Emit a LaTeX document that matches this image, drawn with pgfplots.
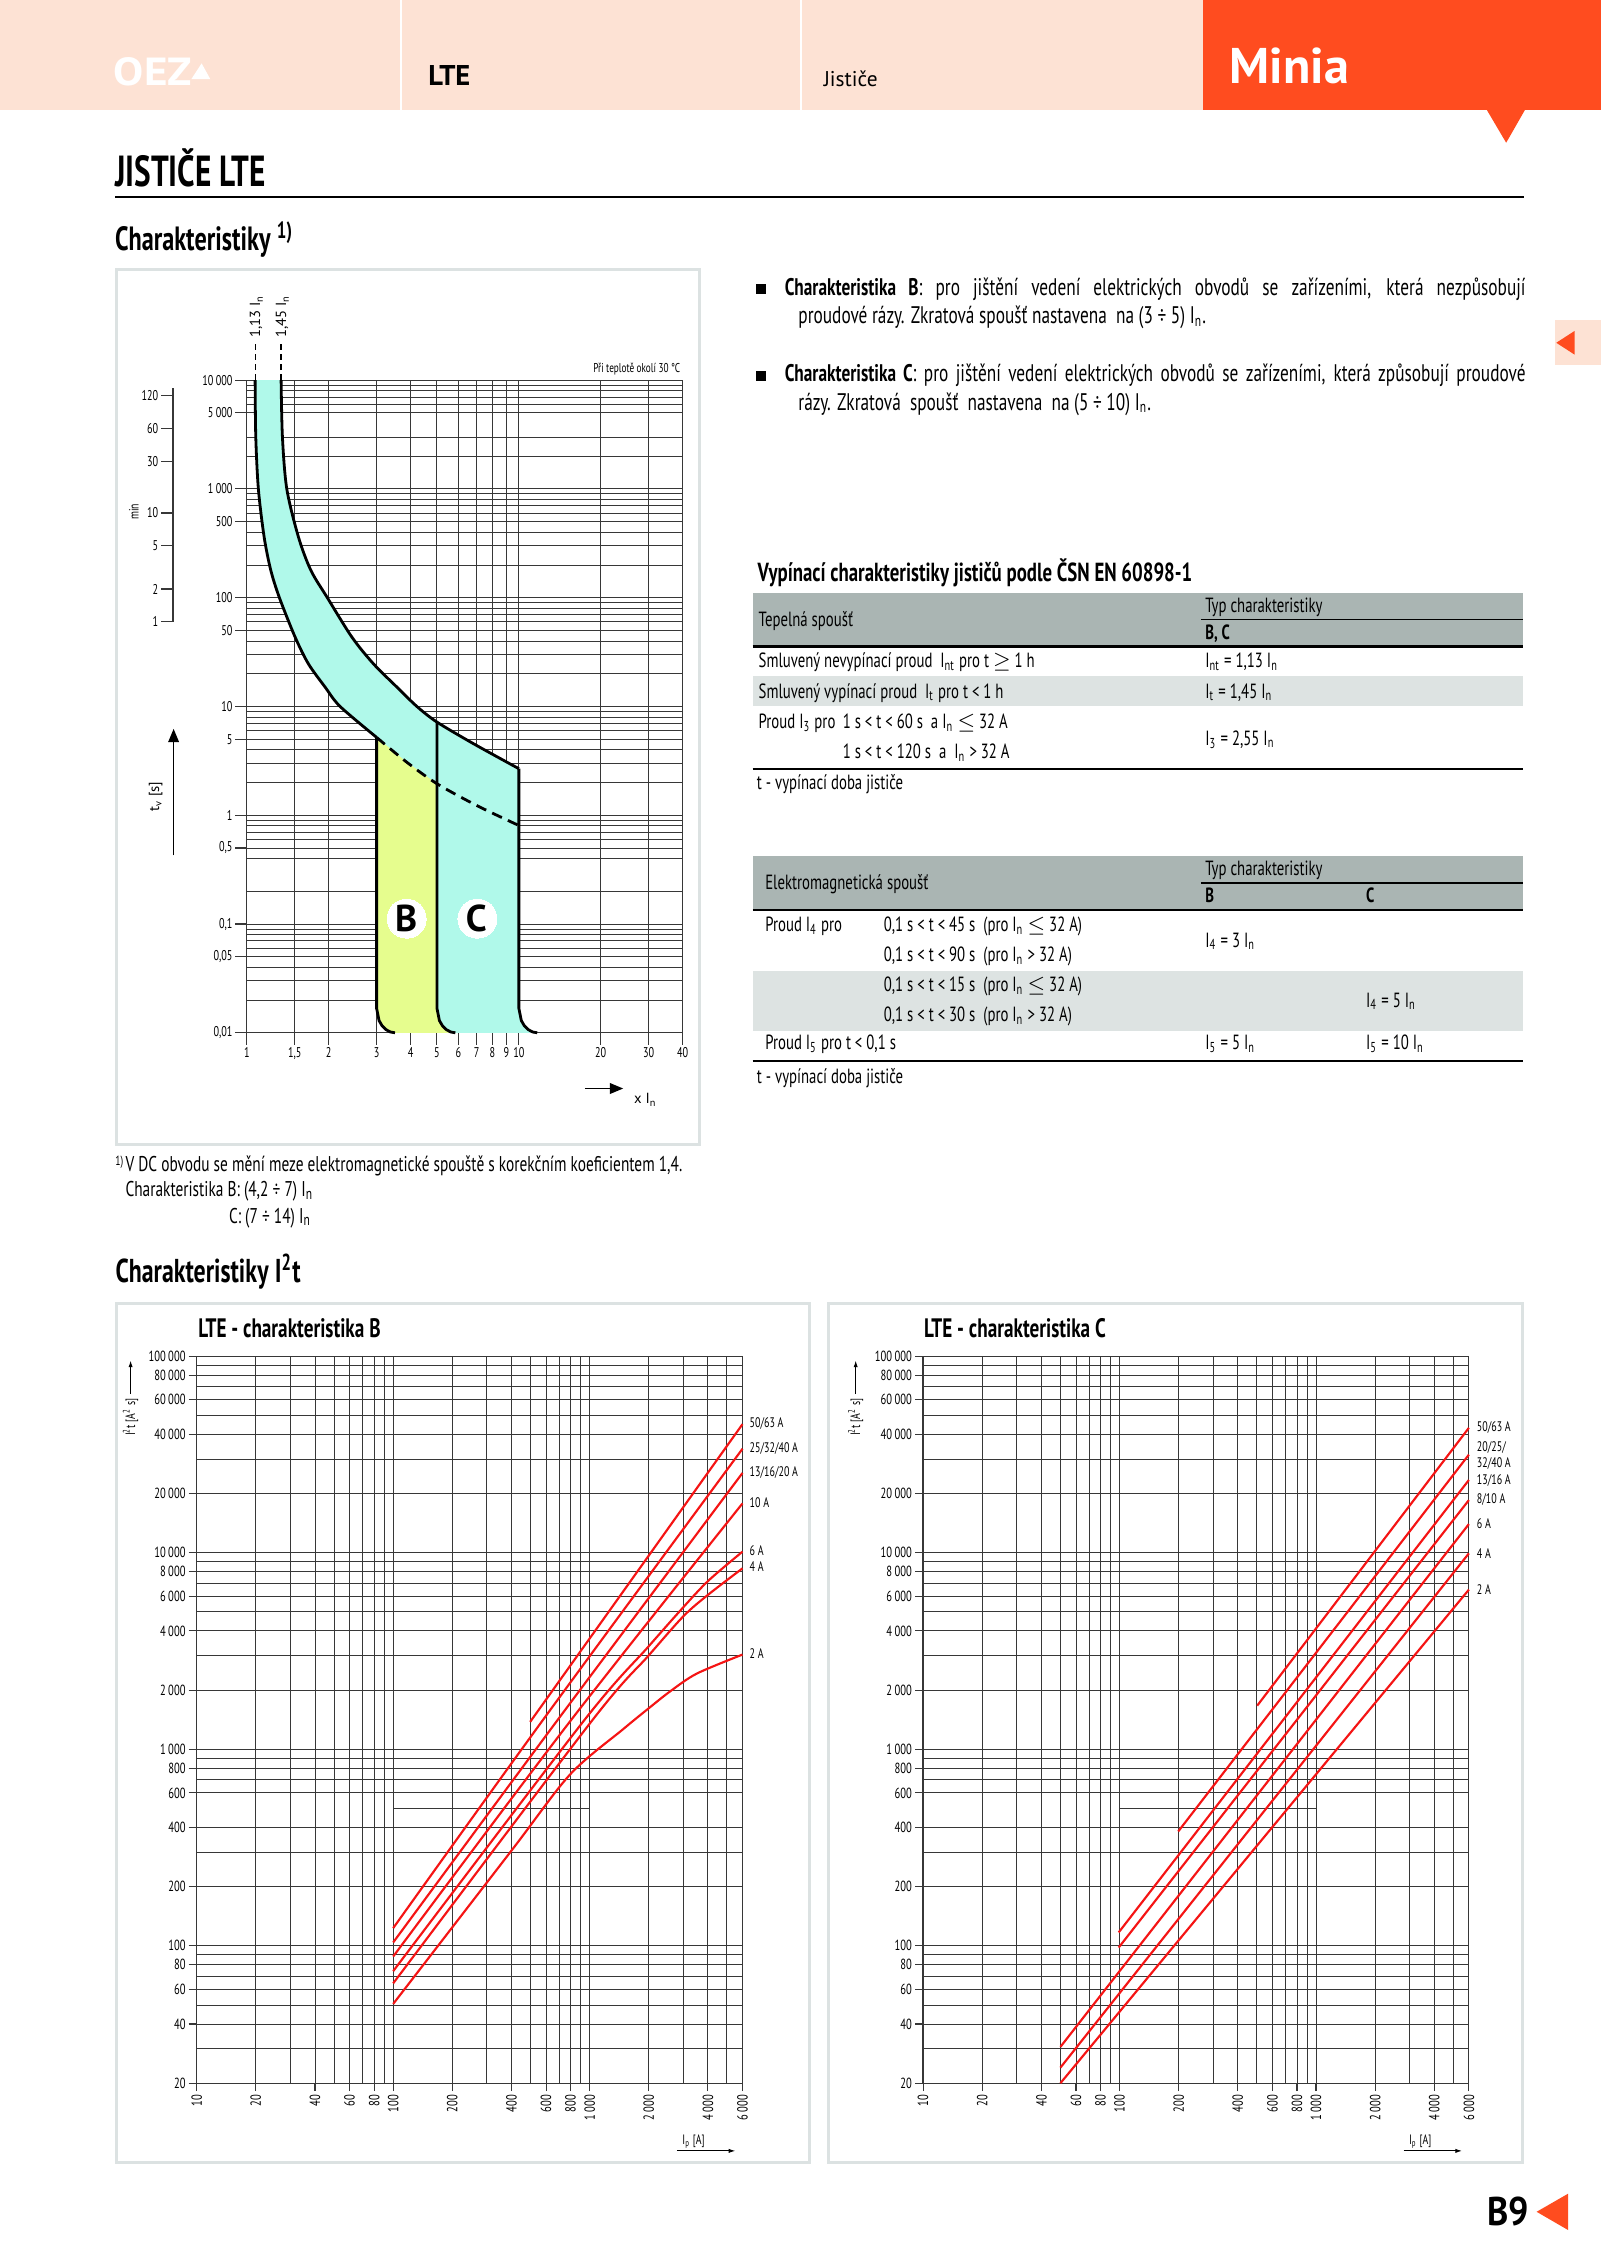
\documentclass[border=0pt]{standalone}
\usepackage{graphicx}
\usepackage{fontspec}
\setmainfont{PT Sans}[FakeStretch=0.72]
\newfontfamily\hfont{PT Sans}
\usepackage{pgfplots}
\pgfplotsset{compat=1.18}
\usetikzlibrary{arrows.meta}
\definecolor{salmon}{RGB}{253,226,212}
\definecolor{oez}{RGB}{255,76,31}
\definecolor{boxgray}{RGB}{220,226,226}
\definecolor{bandc}{RGB}{170,181,179}
\definecolor{lband}{RGB}{221,227,226}
\definecolor{cyanf}{RGB}{176,249,234}
\definecolor{yelf}{RGB}{230,253,142}
\definecolor{gridc}{RGB}{55,55,55}
\definecolor{redc}{RGB}{245,20,20}
\newcommand\fs[1]{\fontsize{#1}{#1}\selectfont}
\newcommand\In{I\textsubscript{n}}
\tikzset{
  myred/.style={draw=redc, line width=0.8pt, smooth},
  myblk/.style={draw=black, line width=1.05pt, line join=round},
}
\begin{document}
\begin{tikzpicture}[x=0.54103pt,y=-0.54103pt]
\useasboundingbox (0,0) rectangle (1109,1568);
\fill[white] (0,0) rectangle (1109,1568);
% ---------------- header
\fill[salmon] (0,0) rectangle (833.5,76.2);
\fill[white] (277,0) rectangle (278.8,76.2);
\fill[white] (554.2,0) rectangle (555.6,76.2);
\fill[oez] (833.5,0) rectangle (1109,76.2);
\fill[oez] (1030.1,76) -- (1056.7,76) -- (1043.6,98.9) -- cycle;
\node[anchor=base west, inner sep=0, white] at (78.5,59.4) {\scalebox{1.15}[1]{\hfont\bfseries\fs{14.7}OEZ}};
\fill[white] (132.6,54.8) -- (145.7,54.8) -- (139.7,43.9) -- cycle;
\node[anchor=base west, inner sep=0] at (296.4,58.9) {\hfont\bfseries\fs{10.7}LTE};
\node[anchor=base west, inner sep=0] at (570.4,59.6) {\hfont\fs{8}Jističe};
\node[anchor=base west, inner sep=0, white] at (851.6,57.8) {\hfont\bfseries\fs{18.8}Minia};
% right tab
\fill[salmon] (1077.6,221.8) rectangle (1109,253);
\fill[oez] (1078.3,237.5) -- (1091,229.3) -- (1091,245.7) -- cycle;
% page number
\node[anchor=base west, inner sep=0] at (1030,1542.2) {\scalebox{0.9}[1]{\hfont\bfseries\fs{15}B9}};
\fill[oez] (1064.7,1532.5) -- (1086.6,1519.9) -- (1086.6,1545.2) -- cycle;
% ---------------- titles
\node[anchor=base west, inner sep=0] at (79.4,129.4) {\bfseries\fs{16.3}JISTIČE LTE};
\draw[line width=0.7pt] (80,136.5) -- (1056,136.5);
\node[anchor=base west, inner sep=0] at (79.4,173.3) {\bfseries\fs{12.6}Charakteristiky \textsuperscript{1)}};
\node[anchor=base west, inner sep=0] at (79.7,888.4) {\bfseries\fs{12.4}Charakteristiky I\textsuperscript{2}t};
% ---------------- bullet paragraphs
\fill (524,196.8) rectangle (531,203.8);
\fill (524,256.9) rectangle (531,263.9);
\node[anchor=base west, inner sep=0] at (543.4,204.5) {\parbox[t]{277.7pt}{\fontsize{9}{10.6}\selectfont\hangindent=5.1pt\hangafter=1
\textbf{Charakteristika B}: pro jištění vedení elektrických obvodů se zařízeními, která nezpůsobují\linebreak proudové rázy. Zkratová spoušť nastavena\ \ na (3 ÷ 5) \In.\par}};
\node[anchor=base west, inner sep=0] at (543.4,264.6) {\parbox[t]{277.7pt}{\fontsize{9}{10.6}\selectfont\hangindent=5.1pt\hangafter=1
\textbf{Charakteristika C}: pro jištění vedení elektrických obvodů se zařízeními, která způsobují proudové\linebreak rázy. Zkratová\ \ spoušť\ \ nastavena\ \ na (5 ÷ 10) \In.\par}};
% ---------------- table 1
\node[anchor=base west, inner sep=0] at (524.5,402.8) {\bfseries\fs{9.8}Vypínací charakteristiky jističů podle ČSN EN 60898-1};
\fill[bandc] (521.5,410.8) rectangle (1055.5,447.8);
\fill[lband] (521.5,468.5) rectangle (1055.5,489.4);
\draw[line width=0.5pt] (832,429.1) -- (1055.5,429.1);
\draw[line width=1.1pt] (521.5,448) -- (1055.5,448);
\draw[line width=0.7pt] (521.5,532.6) -- (1055.5,532.6);
\begin{scope}[every node/.style={anchor=base west, inner sep=0, font=\fs{7.7}}]
\node at (525.3,434) {Tepelná spoušť};
\node at (834.8,424.3) {Typ charakteristiky};
\node at (834.8,442.8) {\bfseries B, C};
\node at (525.3,462.8) {Smluvený nevypínací proud\ \ I\textsubscript{nt} pro t $\ge$ 1 h};
\node at (834.8,462.8) {I\textsubscript{nt} = 1,13 \In};
\node at (525.3,483.8) {Smluvený vypínací proud\ \ I\textsubscript{t} pro t < 1 h};
\node at (834.8,483.8) {I\textsubscript{t} = 1,45 \In};
\node at (525.3,504.8) {Proud I\textsubscript{3} pro};
\node at (583.6,504.8) {1 s < t < 60 s\ \ a\ \In\ $\le$ 32 A};
\node at (583.6,525.6) {1 s < t < 120 s\ \ a\ \ \In\ > 32 A};
\node at (834.8,516.4) {I\textsubscript{3} = 2,55 \In};
\node at (524,547.2) {t - vypínací doba jističe};
\end{scope}
% ---------------- table 2
\fill[bandc] (521.5,593.3) rectangle (1055.5,630.3);
\fill[lband] (521.5,673.1) rectangle (1055.5,714.4);
\draw[line width=0.5pt] (832,611.8) -- (1055.5,611.8);
\draw[line width=1.1pt] (521.5,630.5) -- (1055.5,630.5);
\draw[line width=0.7pt] (521.5,735.4) -- (1055.5,735.4);
\begin{scope}[every node/.style={anchor=base west, inner sep=0, font=\fs{7.7}}]
\node at (529.9,616.5) {Elektromagnetická spoušť};
\node at (834.8,606.5) {Typ charakteristiky};
\node at (834.8,625) {\bfseries B};
\node at (946.2,625) {\bfseries C};
\node at (529.9,645.5) {Proud I\textsubscript{4} pro};
\node at (612,645.5) {0,1 s < t < 45 s\ \ (pro \In\ $\le$ 32 A)};
\node at (612,666.3) {0,1 s < t < 90 s\ \ (pro \In\ > 32 A)};
\node at (834.8,656.2) {I\textsubscript{4} = 3 \In};
\node at (612,687.2) {0,1 s < t < 15 s\ \ (pro \In\ $\le$ 32 A)};
\node at (612,708) {0,1 s < t < 30 s\ \ (pro \In\ > 32 A)};
\node at (946.2,697.8) {I\textsubscript{4} = 5 \In};
\node at (529.9,727.5) {Proud I\textsubscript{5} pro t < 0,1 s};
\node at (834.8,727.5) {I\textsubscript{5} = 5 \In};
\node at (946.2,727.5) {I\textsubscript{5} = 10 \In};
\node at (524,750.9) {t - vypínací doba jističe};
\end{scope}
% ---------------- footnote
\node[anchor=base west, inner sep=0] at (79.6,807.5) {\fs{5}1)};
\begin{scope}[every node/.style={anchor=base west, inner sep=0, font=\fs{8}}]
\node at (86.6,811.7) {V DC obvodu se mění meze elektromagnetické spouště s korekčním koeficientem 1,4.};
\node at (86.6,829.3) {Charakteristika B: (4,2 ÷ 7) \In};
\node at (158.3,847.6) {C: (7 ÷ 14) \In};
\end{scope}
% ---------------- frames
\draw[boxgray, line width=1.1pt] (80.6,186.5) rectangle (484.5,793);
\draw[boxgray, line width=1.1pt] (80.6,903) rectangle (560.9,1498.3);
\draw[boxgray, line width=1.1pt] (574.3,903) rectangle (1055.2,1498.3);
% ---------------- top chart decorations
\node[anchor=base east, inner sep=0] at (471.7,258.3) {\fs{4.8}Při teplotě okolí 30 °C};
\draw[black, line width=0.6pt, dash pattern=on 2.2pt off 1.6pt] (176.9,263.4) -- (176.9,235.7);
\draw[black, line width=0.6pt, dash pattern=on 2.2pt off 1.6pt] (194.9,263.4) -- (194.9,235.7);
\node[rotate=90, anchor=west, inner sep=0.5pt] at (177.6,235.2) {\hfont\fs{5.5}1,13 \In};
\node[rotate=90, anchor=west, inner sep=0.5pt] at (195.6,235.2) {\hfont\fs{5.5}1,45 \In};
\node[rotate=90, inner sep=0] at (92.7,354.7) {\fs{5.1}min};
\node[rotate=90, inner sep=0] at (107.8,552) {\hfont\fs{5.5}t\textsubscript{v} [s]};
\draw[line width=0.6pt, -{Triangle[length=5pt,width=4pt]}] (120.3,592.6) -- (120.3,505);
\draw[line width=0.6pt, -{Triangle[length=5pt,width=4pt]}] (405.3,754.2) -- (431.8,754.2);
\node[anchor=base west, inner sep=0] at (439,764.7) {\hfont\fs{5.5}x \In};
% min axis
\begin{axis}[at={(64.82pt,-233.1pt)}, anchor=south west, scale only axis, width=1pt, height=87.72pt,
  ymode=log, ymin=60, ymax=8500, xmin=0, xmax=1,
  axis x line=none, axis y line*=left,
  ytick={60,120,300,600,1800,3600,7200}, yticklabels={1,2,5,10,30,60,120},
  minor ytick={}, minor tick num=0,
  tick align=outside, major tick length=4.3pt,
  tick style={draw=gridc, line width=0.45pt}, axis line style={draw=gridc, line width=0.5pt},
  yticklabel style={font=\fs{5.3}, inner sep=1pt}]
\addplot[draw=none] coordinates {(0.5,100)};
\end{axis}
% main time-current chart
\begin{axis}[at={(92.516pt,-387.16pt)}, anchor=south west, scale only axis,
  width=163.39pt, height=244.65pt,
  xmode=log, ymode=log, clip=false,
  xmin=1,xmax=40,ymin=0.01,ymax=10000,
  grid=both,
  major grid style={draw=gridc, line width=0.35pt},
  minor grid style={draw=gridc, line width=0.35pt},
  axis line style={draw=gridc, line width=0.45pt},
  tick align=outside, tick pos=left,
  major tick length=4.4pt, minor tick length=0pt,
  tick style={draw=gridc, line width=0.4pt},
  xtick={1,1.5,2,3,4,5,6,7,8,9,10,20,30,40},
  xticklabels={1,{1,5},2,3,4,5,6,7,8,9,10,20,30,40},
  ytick={0.01,0.05,0.1,0.5,1,5,10,50,100,500,1000,5000,10000},
  yticklabels={{0,01},{0,05},{0,1},{0,5},1,5,10,50,100,500,{1\,000},{5\,000},{10\,000}},
  minor ytick={0.02,0.03,0.04,0.06,0.07,0.08,0.09,0.2,0.4,0.6,0.7,0.8,0.9,2,3,4,6,7,8,9,20,30,40,60,70,80,90,200,300,400,600,700,800,900,2000,3000,6000,7000,8000,9000},
  xticklabel style={font=\fs{5.3}, inner sep=1pt},
  yticklabel style={font=\fs{5.3}, inner sep=0.8pt}]
% cyan thermal band + C zone
\addplot[fill=cyanf, draw=none] coordinates {
 (1.073,10000) (1.337,10000) (1.352,3010) (1.403,1000) (1.548,362) (1.719,179) (1.978,100) (2.433,43.5) (2.92,24.7) (3.56,15.1) (4.22,10) (5,7.19) (6.81,4.55) (10,2.68)
 (10,0.01677) (10.211,0.01295) (10.467,0.01164) (10.81,0.01072) (11.225,0.01018) (11.686,0.01)
 (3.506,0.01) (3.3675,0.01018) (3.243,0.01072) (3.14,0.01164) (3.0633,0.01295) (3,0.01677)
 (3,5.2) (2.203,10) (1.94,15.1) (1.684,24.7) (1.505,43.5) (1.318,100) (1.225,179) (1.158,362) (1.103,1000) (1.079,3010)} -- cycle;
% yellow B zone
\addplot[fill=yelf, draw=none] coordinates {
 (3,5.2) (3.87,3.08) (5,1.95) (5,0.01677) (5.1055,0.01295) (5.2335,0.01164) (5.405,0.01072) (5.6125,0.01018) (5.843,0.01)
 (3.506,0.01) (3.3675,0.01018) (3.243,0.01072) (3.14,0.01164) (3.0633,0.01295) (3,0.01677)} -- cycle;
% outlines
\addplot[myblk, smooth] coordinates {(1.073,10000) (1.079,3010) (1.103,1000) (1.158,362) (1.225,179) (1.318,100) (1.505,43.5) (1.684,24.7) (1.94,15.1) (2.203,10) (3,5.2)};
\addplot[myblk, smooth] coordinates {(1.337,10000) (1.352,3010) (1.403,1000) (1.548,362) (1.719,179) (1.978,100) (2.433,43.5) (2.92,24.7) (3.56,15.1) (4.22,10) (5,7.19) (6.81,4.55) (10,2.68)};
\addplot[myblk, smooth, dash pattern=on 4pt off 2.5pt] coordinates {(3,5.2) (3.87,3.08) (5,1.95) (7.0,1.23) (10,0.805)};
\addplot[myblk] coordinates {(3,5.2) (3,0.01677) (3.0633,0.01295) (3.14,0.01164) (3.243,0.01072) (3.3675,0.01018) (3.506,0.01)};
\addplot[myblk] coordinates {(5,7.19) (5,0.01677) (5.1055,0.01295) (5.2335,0.01164) (5.405,0.01072) (5.6125,0.01018) (5.843,0.01)};
\addplot[myblk] coordinates {(10,2.68) (10,0.01677) (10.211,0.01295) (10.467,0.01164) (10.81,0.01072) (11.225,0.01018) (11.686,0.01)};
\addplot[only marks, draw=white, fill=white, mark=*, mark size=7.3pt, mark options={draw=white, fill=white, line width=0pt}] coordinates {(3.87,0.112) (7.04,0.112)};
\end{axis}
\node[inner sep=0] at (281.5,636.3) {\hfont\bfseries\fs{14}B};
\node[inner sep=0] at (330.1,636.3) {\hfont\bfseries\fs{14}C};
% ---------------- I2t charts
\node[anchor=base west, inner sep=0] at (137,926.5) {\bfseries\fs{10}LTE - charakteristika B};
\node[anchor=base west, inner sep=0] at (639.9,926.5) {\bfseries\fs{10}LTE - charakteristika C};
\foreach \xl/\xa in {90.5/469,592.9/972.5}{
  \node[rotate=90, inner sep=0] at (\xl,982) {\fs{5.1}I\textsuperscript{2}t [A\textsuperscript{2} s]};
  \draw[line width=0.35pt, -{Latex[length=2.5pt,width=1.6pt]}] (\xl,966) -- (\xl,942.7);
  \draw[line width=0.35pt, -{Latex[length=2.5pt,width=1.6pt]}] (\xa,1490.3) -- (\xa+40.5,1490.3);
  \node[anchor=base west, inner sep=0] at (\xa+3.5,1485.6) {\fs{5.1}I\textsubscript{p} [A]};
}
\begin{axis}[at={(73.742pt,-780.92pt)}, anchor=south west, scale only axis,
  width=204.6pt, height=272.52pt,
  xmode=log, ymode=log, clip=false,
  xmin=10, xmax=6000, ymin=20, ymax=100000,
  grid=both,
  major grid style={draw=gridc, line width=0.35pt},
  minor grid style={draw=gridc, line width=0.35pt},
  axis line style={draw=gridc, line width=0.45pt},
  tick align=outside, tick pos=left,
  major tick length=3pt, minor tick length=0pt,
  tick style={draw=gridc, line width=0.4pt},
  xtick={10,20,40,60,80,100,200,400,600,800,1000,2000,4000,6000},
  xticklabels={10,20,40,60,80,100,200,400,600,800,{1\,000},{2\,000},{4\,000},{6\,000}},
  minor xtick={30,50,70,90,300,500,700,900,3000,5000},
  ytick={20,40,60,80,100,200,400,600,800,1000,2000,4000,6000,8000,10000,20000,40000,60000,80000,100000},
  yticklabels={20,40,60,80,100,200,400,600,800,{1\,000},{2\,000},{4\,000},{6\,000},{8\,000},{10\,000},{20\,000},{40\,000},{60\,000},{80\,000},{100\,000}},
  minor ytick={30,50,70,90,300,700,900,3000,5000,7000,9000,30000,50000,70000,90000},
  xticklabel style={rotate=90, anchor=east, font=\fs{5.5}, inner sep=1.2pt},
  yticklabel style={font=\fs{5.5}, inner sep=1pt}]
\addplot[draw=gridc, line width=0.35pt] coordinates {(100,500) (1000,500)};
\addplot[myred] coordinates {(498,1378) (6000,45100)};
\addplot[myred] coordinates {(100,123) (575,1398) (6000,33800)};
\addplot[myred] coordinates {(100,104) (683,1398) (6000,25450)};
\addplot[myred] coordinates {(100,88.2) (800,1398) (6000,17820)};
\addplot[myred] coordinates {(100,74.3) (935,1398) (1992,3330) (3003,5290) (4027,7217) (6000,10130)};
\addplot[myred] coordinates {(100,64.4) (1028,1398) (1992,2992) (3003,4755) (4027,6135) (6000,8330)};
\addplot[myred] coordinates {(100,50.6) (400,305) (796,745) (1486,1269) (2032,1638) (2570,1971) (3516,2429) (6000,3033)};
\end{axis}
\begin{axis}[at={(346.04pt,-780.92pt)}, anchor=south west, scale only axis,
  width=204.6pt, height=272.52pt,
  xmode=log, ymode=log, clip=false,
  xmin=10, xmax=6000, ymin=20, ymax=100000,
  grid=both,
  major grid style={draw=gridc, line width=0.35pt},
  minor grid style={draw=gridc, line width=0.35pt},
  axis line style={draw=gridc, line width=0.45pt},
  tick align=outside, tick pos=left,
  major tick length=3pt, minor tick length=0pt,
  tick style={draw=gridc, line width=0.4pt},
  xtick={10,20,40,60,80,100,200,400,600,800,1000,2000,4000,6000},
  xticklabels={10,20,40,60,80,100,200,400,600,800,{1\,000},{2\,000},{4\,000},{6\,000}},
  minor xtick={30,50,70,90,300,500,700,900,3000,5000},
  ytick={20,40,60,80,100,200,400,600,800,1000,2000,4000,6000,8000,10000,20000,40000,60000,80000,100000},
  yticklabels={20,40,60,80,100,200,400,600,800,{1\,000},{2\,000},{4\,000},{6\,000},{8\,000},{10\,000},{20\,000},{40\,000},{60\,000},{80\,000},{100\,000}},
  minor ytick={30,50,70,90,300,700,900,3000,5000,7000,9000,30000,50000,70000,90000},
  xticklabel style={rotate=90, anchor=east, font=\fs{5.5}, inner sep=1.2pt},
  yticklabel style={font=\fs{5.5}, inner sep=1pt}]
\addplot[draw=gridc, line width=0.35pt] coordinates {(100,500) (1000,500)};
\addplot[myred] coordinates {(502,1667) (6000,43200)};
\addplot[myred] coordinates {(199,382) (6000,31560)};
\addplot[myred] coordinates {(99,117) (6000,23450)};
\addplot[myred] coordinates {(99,98) (6000,18530)};
\addplot[myred] coordinates {(50,30.6) (6000,13990)};
\addplot[myred] coordinates {(50,24) (6000,9930)};
\addplot[myred] coordinates {(50,20) (6000,6490)};
\end{axis}
\begin{scope}[every node/.style={anchor=west, inner sep=0, font=\fs{5.2}}]
\node at (519.1,986.1) {50/63 A};
\node at (519.1,1003.4) {25/32/40 A};
\node at (519.1,1020.1) {13/16/20 A};
\node at (519.1,1040.9) {10 A};
\node at (519.1,1074.4) {6 A};
\node at (519.1,1085.5) {4 A};
\node at (519.1,1146) {2 A};
\node at (1023,989.2) {50/63 A};
\node at (1023,1002.8) {20/25/};
\node at (1023,1014.3) {32/40 A};
\node at (1023,1025.9) {13/16 A};
\node at (1023,1039) {8/10 A};
\node at (1023,1055.9) {6 A};
\node at (1023,1076.2) {4 A};
\node at (1023,1101.4) {2 A};
\end{scope}
\end{tikzpicture}
\end{document}
